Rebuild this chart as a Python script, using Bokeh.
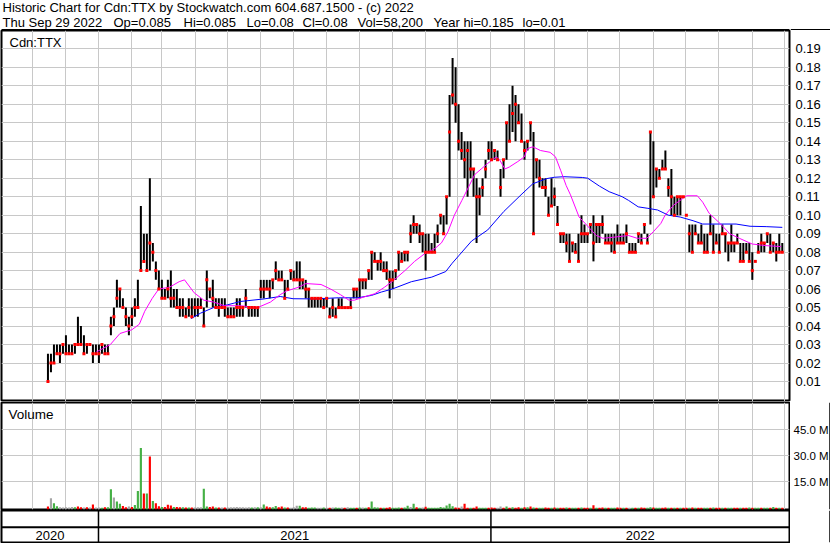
import pandas as pd
from bokeh.plotting import figure
from bokeh.layouts import column, row
from bokeh.models import Range1d, FixedTicker, Span, ColumnDataSource, NumeralTickFormatter
from bokeh.core.properties import value
from bokeh.embed import file_html
from bokeh.resources import INLINE

# ---------------- data ----------------
first_bar = "2020-11-15"
last_bar = "2022-09-29"

high = [
    .025, .025, .03, .03, .03, .03, .035, .03, .03, .03,
    .045, .04, .035, .03, .03, .03, .03, .03, .03, .03,
    .03, .045, .05, .065, .06, .055, .05, .045, .05, .055,
    .065, .105, .09, .09, .12, .085, .075, .07, .065, .06,
    .065, .07, .06, .06, .055, .055, .05, .055, .055, .055,
    .055, .055, .05, .07, .06, .065, .055, .055, .055, .055,
    .05, .05, .05, .055, .055, .05, .06, .05, .05, .05,
    .05, .065, .065, .065, .065, .065, .075, .07, .07, .065,
    .065, .07, .07, .075, .075, .065, .065, .06, .055, .055,
    .055, .055, .055, .055, .05, .055, .05, .055, .055, .05,
    .05, .055, .06, .06, .065, .065, .065, .07, .08, .08,
    .075, .08, .075, .075, .07, .07, .07, .08, .08, .08,
    .08, .095, .10, .095, .095, .09, .09, .09, .085, .09,
    .095, .10, .10, .11, .165, .185, .18, .16, .145, .14,
    .14, .14, .125, .12, .115, .12, .13, .14, .14, .135,
    .135, .125, .13, .15, .16, .17, .165, .16, .155, .14,
    .14, .15, .145, .13, .13, .12, .12, .11, .12, .115,
    .105, .09, .09, .09, .09, .085, .085, .09, .10, .095,
    .09, .095, .10, .095, .095, .10, .09, .09, .09, .09,
    .095, .09, .09, .095, .085, .085, .085, .09, .09, .095,
    .09, .145, .14, .125, .125, .13, .135, .12, .125, .11,
    .11, .11, .11, .10, .095, .095, .095, .09, .095, .09,
    .09, .10, .095, .09, .09, .095, .09, .085, .095, .085,
    .09, .085, .085, .085, .085, .08, .075, .085, .09, .085,
    .09, .09, .085, .085, .09, .085,
]
low = [
    .01, .015, .02, .025, .02, .025, .025, .025, .025, .025,
    .03, .03, .025, .025, .03, .02, .025, .02, .025, .025,
    .025, .035, .04, .05, .05, .05, .04, .035, .04, .045,
    .05, .07, .075, .07, .07, .075, .065, .06, .055, .055,
    .055, .05, .05, .05, .045, .045, .045, .045, .045, .045,
    .045, .05, .04, .05, .055, .05, .05, .045, .05, .045,
    .045, .045, .045, .045, .045, .045, .05, .045, .045, .045,
    .045, .055, .055, .06, .055, .06, .065, .065, .065, .055,
    .06, .065, .065, .065, .06, .06, .055, .05, .05, .05,
    .05, .05, .05, .05, .045, .045, .045, .05, .05, .05,
    .05, .05, .055, .055, .055, .06, .06, .065, .065, .075,
    .07, .07, .07, .065, .055, .06, .065, .07, .075, .075,
    .075, .085, .09, .09, .085, .08, .07, .08, .08, .08,
    .085, .095, .09, .095, .11, .16, .15, .135, .13, .12,
    .11, .12, .11, .085, .10, .11, .12, .13, .13, .13,
    .13, .11, .12, .13, .14, .145, .14, .15, .14, .13,
    .135, .14, .09, .12, .115, .115, .11, .10, .105, .105,
    .095, .085, .085, .08, .075, .08, .08, .075, .085, .085,
    .085, .09, .075, .085, .085, .09, .085, .085, .08, .08,
    .085, .085, .085, .085, .08, .08, .08, .085, .085, .09,
    .085, .095, .11, .115, .12, .125, .125, .11, .10, .10,
    .10, .10, .11, .10, .08, .08, .09, .085, .085, .08,
    .08, .09, .08, .085, .08, .09, .08, .075, .08, .08,
    .085, .075, .075, .08, .075, .065, .075, .08, .08, .08,
    .085, .08, .08, .075, .08, .08,
]
close = [
    .01, .02, .02, .025, .025, .03, .025, .025, .025, .03,
    .03, .03, .025, .03, .03, .025, .025, .025, .03, .025,
    .025, .04, .045, .055, .06, .05, .045, .04, .045, .05,
    .05, .07, .075, .07, .085, .08, .07, .06, .055, .055,
    .06, .055, .055, .05, .05, .05, .045, .05, .045, .05,
    .05, .05, .04, .065, .06, .055, .05, .05, .05, .05,
    .045, .045, .045, .05, .05, .05, .055, .05, .05, .05,
    .05, .06, .06, .06, .06, .065, .07, .065, .065, .055,
    .06, .07, .065, .065, .065, .065, .06, .06, .055, .055,
    .055, .055, .05, .055, .045, .05, .045, .05, .05, .05,
    .05, .05, .06, .06, .065, .065, .065, .07, .08, .075,
    .075, .075, .07, .07, .065, .065, .07, .08, .075, .08,
    .08, .09, .095, .095, .09, .09, .08, .08, .08, .08,
    .09, .10, .09, .11, .145, .165, .16, .14, .135, .13,
    .135, .125, .125, .11, .11, .115, .125, .135, .13, .135,
    .13, .115, .13, .15, .14, .155, .16, .15, .14, .135,
    .14, .15, .09, .13, .12, .115, .115, .10, .105, .11,
    .095, .09, .09, .085, .075, .085, .08, .075, .09, .09,
    .09, .095, .085, .095, .095, .095, .085, .085, .085, .08,
    .085, .085, .085, .09, .08, .08, .08, .09, .085, .095,
    .085, .145, .11, .125, .12, .125, .125, .115, .11, .10,
    .11, .11, .11, .10, .09, .08, .09, .085, .085, .08,
    .08, .09, .08, .085, .08, .09, .09, .085, .085, .085,
    .085, .075, .075, .08, .075, .07, .075, .08, .085, .085,
    .09, .08, .085, .08, .08, .08,
]
# volume in millions of shares
volume_m = [
    0.8, 5.6, 2.7, 1.0, 0.5, 0.3, 0.4, 0.3, 0.6, 0.5,
    0.8, 0.4, 0.3, 0.4, 0.3, 2.0, 0.3, 0.3, 0.2, 0.4,
    0.5, 10.8, 6.0, 3.7, 2.5, 1.2, 0.5, 0.8, 0.6, 1.7,
    9.8, 34.4, 8.3, 8.3, 29.6, 4.0, 2.7, 1.0, 0.6, 0.6,
    1.9, 1.5, 0.6, 0.6, 0.5, 0.4, 0.3, 0.3, 0.3, 0.3,
    0.4, 0.4, 11.0, 0.8, 0.6, 0.8, 0.3, 0.3, 0.3, 0.3,
    0.3, 0.4, 0.5, 0.6, 0.4, 0.5, 0.3, 0.5, 0.3, 0.5,
    0.5, 0.4, 2.0, 0.8, 0.4, 0.5, 1.2, 0.4, 0.8, 0.3,
    0.3, 0.2, 0.4, 1.3, 1.3, 0.4, 0.4, 0.2, 0.3, 0.3,
    0.2, 0.2, 0.3, 0.2, 0.2, 0.3, 0.3, 0.2, 0.3, 0.2,
    0.4, 0.2, 0.2, 0.2, 0.3, 0.3, 0.2, 0.4, 3.7, 0.4,
    0.3, 0.2, 0.2, 0.2, 0.4, 0.2, 0.2, 0.3, 0.2, 0.3,
    1.3, 0.6, 2.5, 0.4, 0.2, 0.3, 0.7, 0.2, 0.2, 0.2,
    0.2, 0.6, 0.3, 1.5, 2.5, 1.0, 0.3, 0.2, 0.8, 2.5,
    0.2, 0.2, 0.2, 0.8, 0.2, 0.2, 0.2, 0.2, 0.3, 0.2,
    0.2, 0.8, 0.2, 0.8, 0.2, 0.5, 0.2, 0.5, 0.2, 0.5,
    0.4, 0.8, 0.3, 0.2, 0.2, 0.2, 0.3, 0.2, 0.1, 0.3,
    0.2, 0.1, 0.2, 0.3, 0.1, 0.2, 0.1, 0.2, 0.3, 0.1,
    0.2, 0.2, 1.6, 0.2, 0.1, 0.3, 0.2, 0.1, 0.2, 0.1,
    0.3, 0.2, 0.1, 0.2, 0.1, 0.2, 0.2, 0.1, 0.3, 0.2,
    0.2, 0.4, 0.3, 0.2, 0.1, 0.2, 0.3, 0.2, 0.1, 0.2,
    0.2, 0.1, 0.2, 0.1, 0.2, 0.3, 0.2, 0.1, 0.2, 0.2,
    0.1, 0.2, 0.3, 0.1, 0.2, 0.2, 0.1, 0.2, 0.1, 0.2,
    0.2, 0.1, 0.2, 0.2, 0.3, 0.1, 0.2, 0.1, 0.2, 0.2,
    0.1, 0.2, 0.6, 0.1, 0.2, 0.1,
]
# bar colour in the volume panel: g = up day, r = down day, n = unchanged
volume_dir = list(
    "rnggnnnnng" "rrnrnrnngr" "ggnggrrnrg" "ggrgrgrrgr" "rrgrrgrgrn"
    "nnggrrgrnr" "nnnnnnnngn" "gngrrggrrg" "rnnngrrggg" "nngnrnggnr"
    "nggrgngrgg" "grgrrgggrg" "gngrgnrggg" "ggggggrrnr" "rgrrgggrrr"
    "nnrgrgrrgr" "grgrggrrgr" "grrgrggrgr" "rgrgrrgrgg" "rrgrngrgrr"
    "ggrggrrgrg" "rgrrgrgrrg" "grgrrgrggr" "rgrrgrggrg" "grgrgr"
)

ma_short_dates = [
    "2020-12-30", "2021-01-12", "2021-01-21", "2021-02-01", "2021-02-08", "2021-02-13",
    "2021-02-20", "2021-02-26", "2021-03-08", "2021-03-17", "2021-03-22", "2021-03-31",
    "2021-04-09", "2021-04-18", "2021-04-28", "2021-05-13", "2021-05-29", "2021-06-10",
    "2021-06-19", "2021-06-25", "2021-07-06", "2021-07-13", "2021-07-27", "2021-08-05",
    "2021-08-14", "2021-08-22", "2021-08-27", "2021-09-04", "2021-09-15", "2021-09-24",
    "2021-10-03", "2021-10-13", "2021-10-22", "2021-10-31", "2021-11-10", "2021-11-16",
    "2021-11-22", "2021-11-28", "2021-12-05", "2021-12-11", "2021-12-17", "2021-12-23",
    "2021-12-29", "2022-01-06", "2022-01-09", "2022-01-14", "2022-01-18", "2022-01-26",
    "2022-02-01", "2022-02-04", "2022-02-09", "2022-02-16", "2022-02-25", "2022-03-02",
    "2022-03-07", "2022-03-12", "2022-03-16", "2022-03-24", "2022-03-31", "2022-04-09",
    "2022-04-15", "2022-04-24", "2022-05-09", "2022-05-17", "2022-05-26", "2022-06-01",
    "2022-06-08", "2022-06-12", "2022-06-20", "2022-07-02", "2022-07-12", "2022-07-17",
    "2022-07-23", "2022-08-02", "2022-08-11", "2022-08-20", "2022-09-01", "2022-09-14",
    "2022-09-28",
]
ma_short = [
    0.026, 0.030, 0.036, 0.038, 0.041, 0.048, 0.055, 0.060, 0.061, 0.064, 0.065, 0.058,
    0.054, 0.053, 0.051, 0.051, 0.050, 0.053, 0.057, 0.059, 0.061, 0.063, 0.0625, 0.060,
    0.057, 0.054, 0.054, 0.0556, 0.0575, 0.061, 0.065, 0.070, 0.075, 0.079, 0.082, 0.085,
    0.091, 0.100, 0.108, 0.115, 0.122, 0.125, 0.128, 0.1315, 0.130, 0.125, 0.126, 0.129,
    0.1315, 0.136, 0.137, 0.135, 0.134, 0.1316, 0.124, 0.116, 0.111, 0.099, 0.0947, 0.089,
    0.0875, 0.088, 0.089, 0.0875, 0.0875, 0.091, 0.0955, 0.100, 0.1055, 0.1105, 0.1105, 0.107,
    0.101, 0.0956, 0.090, 0.0875, 0.0844, 0.0835, 0.083,
]
ma_long_dates = [
    "2021-03-28", "2021-04-06", "2021-04-18", "2021-05-01", "2021-05-13", "2021-06-04",
    "2021-06-19", "2021-07-01", "2021-07-20", "2021-08-12", "2021-08-30", "2021-09-12",
    "2021-09-21", "2021-10-01", "2021-10-19", "2021-11-07", "2021-11-20", "2021-11-26",
    "2021-12-02", "2021-12-14", "2021-12-29", "2022-01-13", "2022-01-29", "2022-02-09",
    "2022-02-22", "2022-03-01", "2022-03-10", "2022-03-27", "2022-04-01", "2022-04-12",
    "2022-04-21", "2022-05-03", "2022-05-09", "2022-05-18", "2022-05-27", "2022-06-05",
    "2022-06-15", "2022-06-26", "2022-07-08", "2022-07-17", "2022-08-02", "2022-08-17",
    "2022-08-30", "2022-09-14", "2022-09-29",
]
ma_long = [
    0.044, 0.047, 0.050, 0.0515, 0.0533, 0.0547, 0.056, 0.0548, 0.0547, 0.0553, 0.0553, 0.0566,
    0.0584, 0.060, 0.064, 0.0665, 0.0695, 0.074, 0.078, 0.086, 0.092, 0.102, 0.111, 0.117,
    0.1198, 0.1205, 0.1208, 0.1204, 0.120, 0.1157, 0.1127, 0.110, 0.108, 0.1045, 0.1037, 0.1028,
    0.100, 0.099, 0.097, 0.0952, 0.0952, 0.0952, 0.094, 0.0938, 0.0934,
]

price_ticks = [0.01, 0.02, 0.03, 0.04, 0.05, 0.06, 0.07, 0.08, 0.09, 0.10,
               0.11, 0.12, 0.13, 0.14, 0.15, 0.16, 0.17, 0.18, 0.19]
volume_ticks = [15, 30, 45]
volume_tick_labels = ["15.0 M", "30.0 M", "45.0 M"]
years = ["2020", "2021", "2022"]

header_line1 = "Historic Chart for Cdn:TTX by Stockwatch.com 604.687.1500 - (c) 2022"
header_fields = ["Thu Sep 29 2022", "Op=0.085", "Hi=0.085", "Lo=0.08", "Cl=0.08",
                 "Vol=58,200", "Year hi=0.185", "lo=0.01"]
symbol = "Cdn:TTX"

# ---------------- layout constants ----------------
W = 830
PLOT_W = 790
RCOL = W - PLOT_W
HDR_H, PRICE_H, VOL_H, YEAR_H = 30, 371, 109, 33
FONT = "Liberation Sans"
FS = "13px"
GRID = "#C8C8C8"
field_x = [2, 113, 183, 246, 302, 357, 433, 522]

x_start = pd.Timestamp("2020-10-02 19:00")
x_end = pd.Timestamp("2022-10-05 17:00")
xr = Range1d(start=x_start, end=x_end)
month_ticks = (pd.date_range("2020-11-01", "2022-10-01", freq="MS").astype("int64") // 10**6).tolist()

bar_dates = pd.date_range(first_bar, last_bar, periods=len(high))
dir_colors = {"g": "#45B045", "r": "#FF0000", "n": "#A4A4A4"}
src = ColumnDataSource(dict(date=bar_dates, high=high, low=low, close=close,
                            vol=volume_m, color=[dir_colors[d] for d in volume_dir]))


def make_fig(width, height, x_range, y_range, yloc=None, left=1, right=1, top=0, bottom=0,
             outline=True, datetime=True):
    kw = dict(x_axis_type="datetime") if datetime else {}
    f = figure(width=width, height=height, x_range=x_range, y_range=y_range,
               x_axis_location=None, y_axis_location=yloc, output_backend="svg",
               toolbar_location=None, min_border_left=left, min_border_right=right,
               min_border_top=top, min_border_bottom=bottom, **kw)
    f.outline_line_color = "black" if outline else None
    f.outline_line_width = 2
    f.background_fill_color = "white"
    f.border_fill_color = "white"
    return f


def text_kw(size=FS):
    return dict(text_font=value(FONT), text_font_size=value(size), text_color="black",
                text_baseline="middle")


# ---------------- header strip (x in pixels of the plot frame) ----------------
hdr = make_fig(PLOT_W, HDR_H, Range1d(1, PLOT_W - 1), Range1d(HDR_H, 0), left=1, right=1,
               outline=False, datetime=False)
hdr.grid.visible = False
hdr.text(x=[2], y=[7], text=[header_line1], **text_kw())
hdr.text(x=field_x, y=[22] * len(header_fields), text=header_fields, **text_kw())
hdr.segment(x0=[0], y0=[29.5], x1=[PLOT_W], y1=[29.5], line_color="black", line_width=2)

hdr_r = make_fig(RCOL, HDR_H, Range1d(0, RCOL), Range1d(HDR_H, 0), left=0, right=0,
                 outline=False, datetime=False)
hdr_r.grid.visible = False
hdr_r.segment(x0=[0], y0=[29.5], x1=[RCOL], y1=[29.5], line_color="black", line_width=2)

# ---------------- price panel ----------------
p = make_fig(W, PRICE_H, xr, Range1d(-0.0008, 0.1999), yloc="right", left=1, right=RCOL + 1)
p.xgrid.ticker = FixedTicker(ticks=month_ticks)
p.yaxis.ticker = FixedTicker(ticks=price_ticks)
p.ygrid.ticker = FixedTicker(ticks=price_ticks)
for g in (p.xgrid, p.ygrid):
    g.grid_line_color = GRID
    g.grid_line_width = 1
p.yaxis.formatter = NumeralTickFormatter(format="0.00")
p.yaxis.axis_line_color = None
p.yaxis.major_tick_line_color = None
p.yaxis.minor_tick_line_color = None
p.yaxis.major_tick_out = 0
p.yaxis.major_label_standoff = 6
p.yaxis.major_label_text_font = FONT
p.yaxis.major_label_text_font_size = FS
p.yaxis.major_label_text_color = "black"

p.segment(x0="date", y0="low", x1="date", y1="high", source=src, line_color="black", line_width=2)
p.line(pd.to_datetime(ma_long_dates), ma_long, line_color="#0000FF", line_width=1)
p.line(pd.to_datetime(ma_short_dates), ma_short, line_color="#FF00FF", line_width=1)
p.scatter(x="date", y="close", source=src, marker="square", size=3,
          fill_color="#FF0000", line_color=None)
p.text(x=[x_start], y=[p.y_range.end], text=[symbol], x_offset=8, y_offset=12, **text_kw())

# ---------------- volume panel ----------------
VOL_START, VOL_END = -0.86, 60.6
vy = Range1d(VOL_START, VOL_END)
v = make_fig(PLOT_W, VOL_H, xr, vy, left=1, right=1, top=1, bottom=1)
v.xgrid.ticker = FixedTicker(ticks=month_ticks)
v.ygrid.ticker = FixedTicker(ticks=volume_ticks)
for g in (v.xgrid, v.ygrid):
    g.grid_line_color = GRID
    g.grid_line_width = 1
v.vbar(x="date", top="vol", bottom=VOL_START, width=2 * 86400000, source=src,
       fill_color="color", line_color=None)
v.text(x=[x_start], y=[VOL_END], text=["Volume"], x_offset=7, y_offset=12, **text_kw("13.5px"))

vlab = make_fig(RCOL, VOL_H, Range1d(0, RCOL), vy, left=0, right=0, top=1, bottom=1,
                outline=False, datetime=False)
vlab.grid.visible = False
vlab.text(x=[3] * len(volume_ticks), y=volume_ticks, text=volume_tick_labels, **text_kw("11.5px"))
vlab.add_layout(Span(location=RCOL - 0.5, dimension="height", line_color="black", line_width=1.5))

# ---------------- year strip ----------------
yf = make_fig(PLOT_W, YEAR_H, xr, Range1d(0, 1), left=1, right=1, top=0, bottom=1)
yf.grid.visible = False
year_edges = [x_start] + [pd.Timestamp(f"{y}-01-01") for y in years[1:]] + [x_end]
year_mid = [year_edges[i] + (year_edges[i + 1] - year_edges[i]) / 2 for i in range(len(years))]
yf.add_layout(Span(location=0.48, dimension="width", line_color="black", line_width=2))
for e in year_edges[1:-1]:
    yf.add_layout(Span(location=e, dimension="height", line_color="black", line_width=1.5))
yf.text(x=year_mid, y=[0.22] * len(years), text=years, text_align="center", **text_kw())

yr = make_fig(RCOL, YEAR_H, Range1d(0, RCOL), Range1d(0, 1), left=0, right=0, top=0, bottom=0,
              outline=False, datetime=False)
yr.grid.visible = False
yr.add_layout(Span(location=RCOL - 0.5, dimension="height", line_color="black", line_width=1.5))

layout = column(row(hdr, hdr_r, spacing=0), p, row(v, vlab, spacing=0),
                row(yf, yr, spacing=0), spacing=0)
open("out.html", "w").write(file_html(layout, INLINE, title="Historic Chart for Cdn:TTX"))
